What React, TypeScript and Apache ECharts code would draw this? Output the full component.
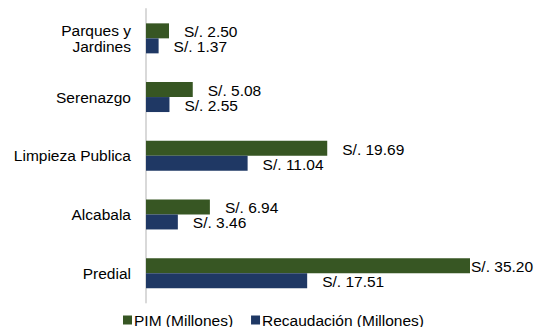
import React, { useEffect, useRef } from "react";
import * as echarts from "echarts";

const categories = ["Predial", "Alcabala", "Limpieza Publica", "Serenazgo", "Parques y Jardines"];
const pimValues = [35.2, 6.94, 19.69, 5.08, 2.5];
const recaudacionValues = [17.51, 3.46, 11.04, 2.55, 1.37];
const seriesNames = ["PIM (Millones)", "Recaudación (Millones)"];

const FONT = "Arial, 'Liberation Sans', sans-serif";
const FS = 15.5;

export default function App() {
  const ref = useRef<HTMLDivElement>(null);
  useEffect(() => {
    if (!ref.current) return;
    const chart = echarts.init(ref.current, null, { renderer: "svg" });
    const maxVal = Math.max(...pimValues, ...recaudacionValues);
    const mkData = (vals: number[]) =>
      vals.map((v) => (v === maxVal ? { value: v, label: { distance: 1 } } : v));
    const labelCfg = {
      show: true,
      position: "right",
      distance: 15,
      offset: [0, 1],
      color: "#000",
      fontFamily: FONT,
      fontSize: FS,
      formatter: (p: any) => "S/. " + Number(p.value).toFixed(2),
    };
    chart.setOption({
      animation: false,
      backgroundColor: "#fff",
      textStyle: { fontFamily: FONT },
      grid: { left: 146, right: 66, top: 9, bottom: 24.5, containLabel: false },
      legend: {
        data: seriesNames,
        left: 118,
        top: 307,
        padding: 5,
        itemWidth: 9,
        itemHeight: 9,
        itemGap: 18,
        icon: "rect",
        textStyle: { fontFamily: FONT, fontSize: FS, color: "#000", padding: [0, 0, 0, -3] },
      },
      xAxis: {
        type: "value",
        min: 0,
        max: maxVal,
        show: false,
      },
      yAxis: {
        type: "category",
        data: categories,
        axisLine: { show: true, lineStyle: { color: "#d9d9d9", width: 2 } },
        axisTick: { show: false },
        axisLabel: {
          margin: 15,
          color: "#000",
          fontFamily: FONT,
          fontSize: FS,
          lineHeight: 16,
          formatter: (v: string) => v.replace(" y ", " y\n"),
        },
      },
      series: [
        {
          name: seriesNames[0],
          type: "bar",
          data: mkData(pimValues),
          barWidth: 15,
          barGap: "0%",
          itemStyle: { color: "#375623" },
          label: labelCfg,
        },
        {
          name: seriesNames[1],
          type: "bar",
          data: mkData(recaudacionValues),
          barWidth: 15,
          barGap: "0%",
          itemStyle: { color: "#1F3864" },
          label: labelCfg,
        },
      ],
    });
    return () => chart.dispose();
  }, []);
  return <div ref={ref} style={{ width: 536, height: 327, position: "absolute", left: 0, top: 0 }} />;
}
